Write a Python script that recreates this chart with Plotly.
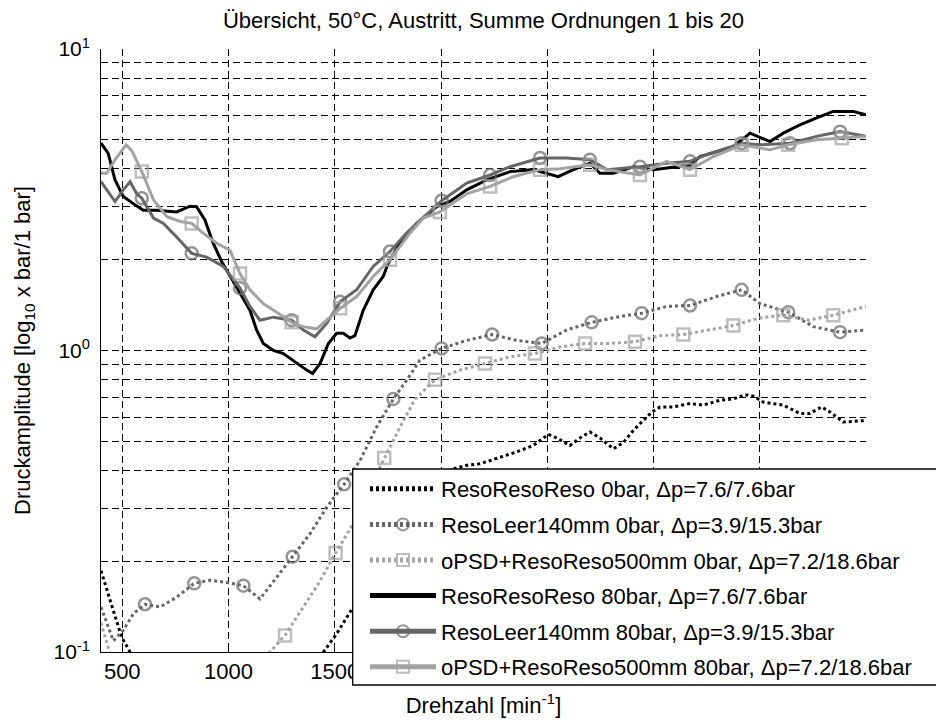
import plotly.graph_objects as go

# ---------------- data ----------------
x_ticks = [500, 1000, 1500, 2000, 2500, 3000, 3500, 4000]
x_ticktext = ["500", "1000", "1500", "", "", "", "", ""]  # labels beyond 1500 lie under the legend
y_ticks = [0.1, 1, 10]
y_ticktext = ["10<sup>-1</sup>\u00a0", "10<sup>0</sup>\u00a0", "10<sup>1</sup>\u00a0"]
y_minor = [0.2, 0.3, 0.4, 0.5, 0.6, 0.7, 0.8, 0.9, 2, 3, 4, 5, 6, 7, 8, 9]

names = [
    "ResoResoReso 0bar, \u0394p=7.6/7.6bar",
    "ResoLeer140mm 0bar, \u0394p=3.9/15.3bar",
    "oPSD+ResoReso500mm 0bar, \u0394p=7.2/18.6bar",
    "ResoResoReso 80bar, \u0394p=7.6/7.6bar",
    "ResoLeer140mm 80bar, \u0394p=3.9/15.3bar",
    "oPSD+ResoReso500mm 80bar, \u0394p=7.2/18.6bar",
]

# ResoResoReso 0bar
s1_x = [400, 434, 466, 497, 537, 580, 1400, 1446, 1509, 1587, 1700, 1800, 1900, 2000, 2058, 2121,
        2184, 2262, 2356, 2434, 2505, 2544, 2607, 2654, 2701, 2748, 2811, 2858, 2905, 2992, 3031,
        3093, 3172, 3234, 3313, 3376, 3431, 3470, 3517, 3611, 3689, 3736, 3791, 3831, 3893, 4000]
s1_y = [0.186, 0.156, 0.130, 0.112, 0.1, 0.09, 0.09, 0.1, 0.115, 0.141, 0.2, 0.27, 0.33, 0.38, 0.405,
        0.416, 0.421, 0.438, 0.461, 0.484, 0.527, 0.513, 0.484, 0.513, 0.537, 0.513, 0.472, 0.495,
        0.543, 0.625, 0.65, 0.65, 0.667, 0.659, 0.684, 0.691, 0.714, 0.706, 0.674, 0.659, 0.618,
        0.618, 0.65, 0.625, 0.579, 0.586]
s1_mx = []

# ResoLeer140mm 0bar
s2_x = [400, 458, 505, 552, 607, 678, 756, 839, 913, 992, 1070, 1148, 1227, 1302, 1384, 1462, 1544,
        1619, 1697, 1776, 1838, 1901, 2003, 2121, 2241, 2356, 2474, 2592, 2709, 2826, 2944, 3062,
        3172, 3297, 3415, 3501, 3634, 3752, 3878, 4000]
s2_y = [0.141, 0.109, 0.118, 0.134, 0.144, 0.141, 0.152, 0.169, 0.173, 0.170, 0.166, 0.150, 0.177,
        0.207, 0.247, 0.302, 0.36, 0.432, 0.557, 0.691, 0.796, 0.929, 1.016, 1.08, 1.13, 1.08, 1.055,
        1.17, 1.24, 1.29, 1.33, 1.40, 1.41, 1.51, 1.59, 1.43, 1.34, 1.2, 1.15, 1.17]
s2_mx = [607, 839, 1070, 1302, 1544, 1776, 2003, 2241, 2474, 2709, 2944, 3172, 3415, 3634, 3878]

# oPSD+ResoReso500mm 0bar
s3_x = [400, 440, 480, 1150, 1195, 1266, 1352, 1431, 1504, 1587, 1666, 1733, 1807, 1878, 1972, 2089,
        2207, 2325, 2442, 2560, 2678, 2795, 2913, 3031, 3140, 3266, 3376, 3493, 3611, 3729, 3846, 4000]
s3_y = [0.125, 0.1, 0.09, 0.09, 0.1, 0.1135, 0.141, 0.172, 0.213, 0.266, 0.352, 0.44, 0.557, 0.69,
        0.80, 0.861, 0.906, 0.953, 0.977, 1.028, 1.055, 1.055, 1.07, 1.12, 1.13, 1.17, 1.21, 1.28,
        1.31, 1.26, 1.31, 1.40]
s3_mx = [1266, 1504, 1733, 1972, 2207, 2442, 2678, 2913, 3140, 3376, 3611, 3846]

# ResoResoReso 80bar
s4_x = [400, 434, 466, 505, 552, 599, 662, 756, 819, 850, 889, 928, 968, 1007, 1054, 1101, 1132, 1164,
        1211, 1258, 1321, 1368, 1396, 1431, 1470, 1509, 1540, 1572, 1595, 1634, 1681, 1728, 1752, 1807,
        1886, 1980, 2042, 2121, 2215, 2325, 2434, 2497, 2551, 2623, 2701, 2748, 2811, 2905, 2999, 3109,
        3172, 3219, 3297, 3376, 3454, 3548, 3611, 3689, 3768, 3846, 3940, 4000]
s4_y = [4.87, 4.51, 3.68, 3.24, 3.07, 2.92, 2.92, 2.88, 3.01, 3.0, 2.71, 2.27, 1.97, 1.76, 1.55, 1.36,
        1.17, 1.055, 1.0, 0.977, 0.906, 0.861, 0.839, 0.906, 1.055, 1.14, 1.14, 1.10, 1.12, 1.36, 1.59,
        1.76, 1.95, 2.27, 2.64, 3.0, 3.12, 3.41, 3.68, 3.92, 3.98, 3.87, 3.77, 3.98, 4.18, 3.87, 3.87,
        4.07, 3.98, 4.07, 4.13, 4.4, 4.57, 4.74, 5.26, 4.93, 5.26, 5.6, 5.91, 6.21, 6.21, 6.05]
s4_mx = []

# ResoLeer140mm 80bar
s5_x = [400, 466, 505, 537, 568, 592, 647, 694, 756, 827, 897, 976, 1054, 1101, 1148, 1211, 1297, 1352,
        1407, 1462, 1525, 1603, 1681, 1760, 1838, 1917, 2003, 2121, 2231, 2325, 2466, 2592, 2701, 2780,
        2936, 3062, 3172, 3250, 3415, 3501, 3642, 3768, 3878, 4000]
s5_y = [3.63, 3.12, 3.41, 3.63, 3.31, 3.2, 2.75, 2.64, 2.38, 2.1, 2.04, 1.9, 1.61, 1.4, 1.26, 1.29, 1.26,
        1.17, 1.11, 1.23, 1.45, 1.59, 1.9, 2.13, 2.45, 2.75, 3.14, 3.59, 3.82, 4.07, 4.35, 4.35, 4.29,
        3.98, 4.07, 4.18, 4.24, 4.46, 4.87, 4.81, 4.87, 5.13, 5.32, 5.13]
s5_mx = [592, 827, 1054, 1297, 1525, 1760, 2003, 2231, 2466, 2701, 2936, 3172, 3415, 3642, 3878]

# oPSD+ResoReso500mm 80bar
s6_x = [400, 427, 466, 518, 545, 592, 647, 710, 772, 827, 881, 944, 1007, 1054, 1101, 1164, 1227, 1297,
        1352, 1415, 1478, 1525, 1603, 1681, 1760, 1854, 1917, 1995, 2121, 2231, 2340, 2466, 2560, 2701,
        2780, 2936, 3062, 3172, 3282, 3415, 3548, 3634, 3768, 3886, 4000]
s6_y = [3.87, 3.87, 4.29, 4.81, 4.6, 3.92, 3.16, 2.78, 2.68, 2.64, 2.45, 2.27, 2.15, 1.8, 1.59, 1.43,
        1.34, 1.24, 1.2, 1.18, 1.29, 1.38, 1.51, 1.76, 2.0, 2.45, 2.75, 2.88, 3.31, 3.5, 3.77, 3.98, 4.01,
        4.13, 3.98, 3.82, 4.24, 3.98, 4.4, 4.81, 4.63, 4.81, 5.0, 5.06, 5.13]
s6_mx = [592, 827, 1054, 1297, 1525, 1760, 1995, 2231, 2466, 2701, 2936, 3172, 3415, 3634, 3886]

# ---------------- styling ----------------
BLACK = "#000000"
DARK = "#666666"
LIGHT = "#a3a3a3"
FONT = "Liberation Sans, Arial, Helvetica, sans-serif"
FS = 22

# the page body has an 8px margin, so the figure is sized/offset to compensate
W, H = 936, 714
OFF = 8
PL, PR, PT, PB = 101, 866, 49, 652  # plot area in window pixels


def px_to_paper_x(px):
    return (px - PL) / (PR - PL)


def px_to_paper_y(py):
    return (PB - py) / (PB - PT)


styles = [
    dict(color=BLACK, dash="3px,3px", symbol=None),
    dict(color=DARK, dash="3px,3px", symbol="circle-open"),
    dict(color=LIGHT, dash="3px,3px", symbol="square-open"),
    dict(color=BLACK, dash="solid", symbol=None),
    dict(color=DARK, dash="solid", symbol="circle-open"),
    dict(color=LIGHT, dash="solid", symbol="square-open"),
]
data = [(s1_x, s1_y, s1_mx), (s2_x, s2_y, s2_mx), (s3_x, s3_y, s3_mx),
        (s4_x, s4_y, s4_mx), (s5_x, s5_y, s5_mx), (s6_x, s6_y, s6_mx)]

fig = go.Figure()
for i, ((xs, ys, mx), st, nm) in enumerate(zip(data, styles, names)):
    kw = dict(x=xs, y=ys, name=nm, legendgroup=f"g{i}",
              line=dict(color=st["color"], width=3, dash=st["dash"]))
    if st["symbol"]:
        sizes = [12 if x in mx else 0 for x in xs]
        kw["mode"] = "lines+markers"
        kw["marker"] = dict(symbol=st["symbol"], size=sizes, color=st["color"],
                            line=dict(width=2.5, color=st["color"]))
    else:
        kw["mode"] = "lines"
    fig.add_trace(go.Scatter(**kw))

grid = dict(showgrid=True, gridcolor=BLACK, gridwidth=1, griddash="7px,4px")

fig.update_layout(
    width=W, height=H,
    margin=dict(l=PL - OFF, r=OFF + W - PR, t=PT - OFF, b=OFF + H - PB, autoexpand=False),
    paper_bgcolor="white", plot_bgcolor="white",
    font=dict(family=FONT, size=FS, color="black"),
    title=dict(text="Übersicht, 50°C, Austritt, Summe Ordnungen 1 bis 20",
               x=0.5, xref="paper", xanchor="center", y=1 - (20 - OFF) / H, yanchor="middle",
               font=dict(size=FS)),
    xaxis=dict(range=[400, 4000], tickvals=x_ticks, ticktext=x_ticktext, ticks="inside", ticklen=6,
               tickcolor=BLACK, showline=True, linecolor=BLACK, linewidth=1, mirror=False,
               zeroline=False, tickfont=dict(size=FS),
               title=dict(text="Drehzahl [min<sup>-1</sup>]", standoff=14, font=dict(size=FS)),
               **grid),
    yaxis=dict(type="log", range=[-1, 1], tickvals=y_ticks, ticktext=y_ticktext, ticks="inside",
               ticklen=6, tickcolor=BLACK, showline=True, linecolor=BLACK, linewidth=1, mirror=False,
               zeroline=False, tickfont=dict(size=21),
               minor=dict(tickvals=y_minor, ticks="inside", ticklen=6, tickcolor=BLACK,
                          showgrid=True, gridcolor=BLACK, gridwidth=1, griddash="7px,4px"),
               title=dict(text="Druckamplitude [log<sub>10</sub> x bar/1 bar]", standoff=16,
                          font=dict(size=FS)),
               **grid),
    legend=dict(x=px_to_paper_x(365), y=px_to_paper_y(468), xanchor="left", yanchor="top",
                bgcolor="rgba(0,0,0,0)", borderwidth=0, font=dict(size=FS),
                itemwidth=66, tracegroupgap=4, itemsizing="constant"),
    shapes=[dict(type="rect", xref="paper", yref="paper",
                 x0=px_to_paper_x(352.7), x1=1.2, y0=px_to_paper_y(685), y1=px_to_paper_y(469),
                 fillcolor="white", line=dict(color=BLACK, width=1.3), layer="above")],
    showlegend=True,
)

fig.write_html("out.html")
